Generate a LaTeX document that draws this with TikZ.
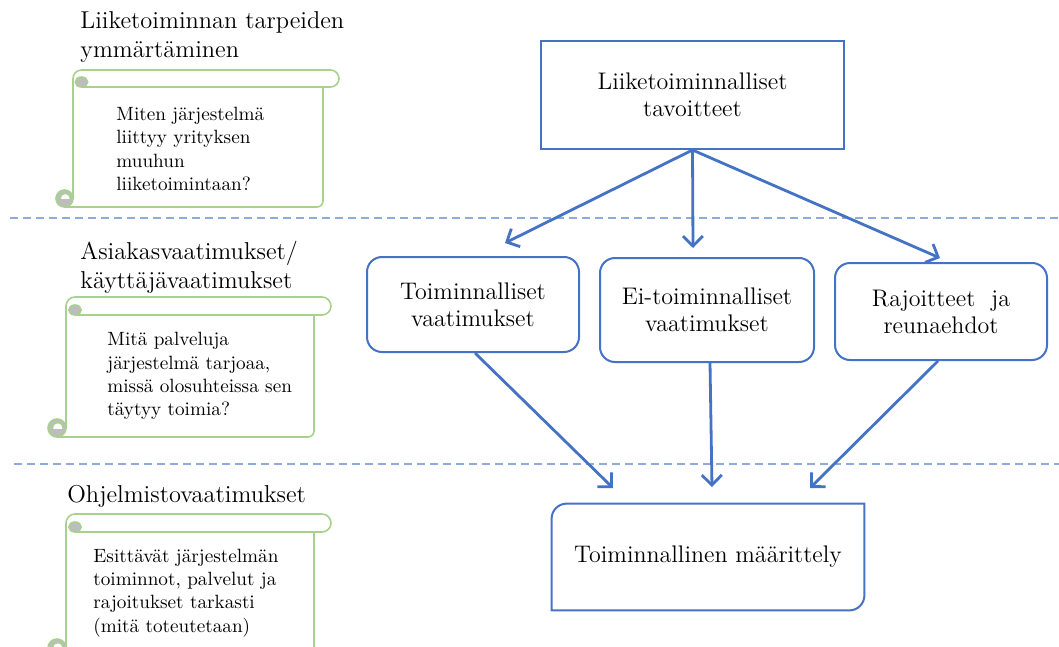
\documentclass[tikz,border=0pt]{standalone}
\usetikzlibrary{arrows.meta,calc}
\definecolor{boxblue}{HTML}{4472C4}
\definecolor{dashblue}{HTML}{8FAADC}
\definecolor{scrollgreen}{HTML}{A9D18E}
\definecolor{curlgray}{HTML}{BDBDBD}

% Scroll outline: #1 body left, #2 body right, #3 roll top, #4 roll bottom,
% #5 roll right end, #6 body bottom
\newcommand\drawscroll[6]{%
  \pgfmathsetmacro\scrR{(#4-#3)/2}%
  \pgfmathsetmacro\scrRpt{(#4-#3)/4}%
  \draw[scrollline,rounded corners=\scrRpt pt]
    (#1+\scrR,#4) -- (#5,#4) -- (#5,#3) -- (#1,#3) -- (#1,#6-\scrR);
  \draw[scrollline,rounded corners=3pt] (#1-\scrR,#6) -- (#2,#6) -- (#2,#4);
  \filldraw[fill=curlgray,scrollline] (#1+\scrR,#4-5) ellipse [x radius=6.2,y radius=5];
  \fill[curlgray] (#1-\scrR,#6-\scrR) circle (\scrR);
  \begin{scope}
    \clip (#1-2*\scrR,#6-\scrR) rectangle (#1,#6-2*\scrR);
    \filldraw[fill=white,scrollline] (#1-\scrR+0.8,#6-\scrR) circle (0.62*\scrR);
  \end{scope}
  \draw[scrollline] (#1-\scrR,#6-\scrR) circle (\scrR);
}

\begin{document}
\begin{tikzpicture}[x=0.5pt,y=-0.5pt,
  heading/.style={anchor=west,align=left,inner sep=0pt,font=\fontsize{12.2}{14.5}\selectfont},
  scrolltext/.style={anchor=west,align=left,inner sep=0pt,font=\fontsize{9.6}{11.6}\selectfont},
  boxtext/.style={align=center,inner sep=0pt,font=\fontsize{12}{13.5}\selectfont},
  goalbox/.style={draw=boxblue,line width=1pt,boxtext},
  reqbox/.style={draw=boxblue,line width=1pt,rounded corners=7.5pt,boxtext},
  specedge/.style={draw=boxblue,line width=1pt},
  flow/.style={draw=boxblue,line width=1.4pt,-{Straight Barb[length=5pt,width=10pt]}},
  scrollline/.style={draw=scrollgreen,line width=0.8pt},
  divider/.style={draw=dashblue,line width=0.8pt,dash pattern=on 4pt off 2.5pt}]

\useasboundingbox (0,0) rectangle (1059,647);
\clip (0,0) rectangle (1059,647);

% level dividers
\coordinate (d1l) at (10,218);
\coordinate (d1r) at (1059,218);
\coordinate (d2l) at (14,464);
\coordinate (d2r) at (1059,464);
\draw[divider] (d1l) -- (d1r);
\draw[divider] (d2l) -- (d2r);

% left column: levels and scrolls
\node[heading] (h1) at (80,37) {Liiketoiminnan tarpeiden\\ymmärtäminen};
\drawscroll{73}{323}{70}{87}{339}{207}
\node[scrolltext] (s1) at (116,149) {Miten järjestelmä\\liittyy yrityksen\\muuhun\\liiketoimintaan?};

\node[heading] (h2) at (80,267) {Asiakasvaatimukset/\\käyttäjävaatimukset};
\drawscroll{66}{314}{297}{315}{331}{437}
\node[scrolltext] (s2) at (107,376) {Mitä palveluja\\järjestelmä tarjoaa,\\missä olosuhteissa sen\\täytyy toimia?};

\node[heading] (h3) at (67,496) {Ohjelmistovaatimukset};
\drawscroll{66}{314}{514}{532}{331}{657}
\node[scrolltext] (s3) at (93,593) {Esittävät järjestelmän\\toiminnot, palvelut ja\\rajoitukset tarkasti\\(mitä toteutetaan)};

% right column: requirement flow
\node[goalbox,minimum width=151.5pt,minimum height=54pt] (goal) at (692.5,95)
  {Liiketoiminnalliset\\tavoitteet};
\node[reqbox,minimum width=106pt,minimum height=47.5pt] (fr) at (473,304.5)
  {Toiminnalliset\\vaatimukset};
\node[reqbox,minimum width=107pt,minimum height=52pt] (nfr) at (707,310)
  {Ei-toiminnalliset\\vaatimukset};
\node[reqbox,minimum width=106pt,minimum height=48.5pt] (con) at (941,311.5)
  {Rajoitteet\ \ ja\\reunaehdot};
\node[boxtext,minimum width=156pt,minimum height=53pt] (spec) at (708,557)
  {Toiminnallinen määrittely};
% outline with rounded top-left and bottom-right corners only
\draw[specedge] (spec.south west)
  -- ([yshift=-7.5pt]spec.north west)
  .. controls ([yshift=-3.4pt]spec.north west) and ([xshift=3.4pt]spec.north west)
  .. ([xshift=7.5pt]spec.north west)
  -- (spec.north east)
  -- ([yshift=7.5pt]spec.south east)
  .. controls ([yshift=3.4pt]spec.south east) and ([xshift=-3.4pt]spec.south east)
  .. ([xshift=-7.5pt]spec.south east)
  -- cycle;

\coordinate (a1) at (505,243);
\coordinate (a2) at (693,248);
\coordinate (a3) at (940,258);
\coordinate (e1) at (613,488);
\coordinate (e2) at (712,487);
\coordinate (e3) at (810,488);
\draw[flow] (goal.south) -- (a1);
\draw[flow] (goal.south) -- (a2);
\draw[flow] (goal.south) -- (a3);
\draw[flow] ([xshift=1pt]fr.south) -- (e1);
\draw[flow] ([xshift=1.5pt]nfr.south) -- (e2);
\draw[flow] ([xshift=-1.5pt]con.south) -- (e3);
\end{tikzpicture}
\end{document}
